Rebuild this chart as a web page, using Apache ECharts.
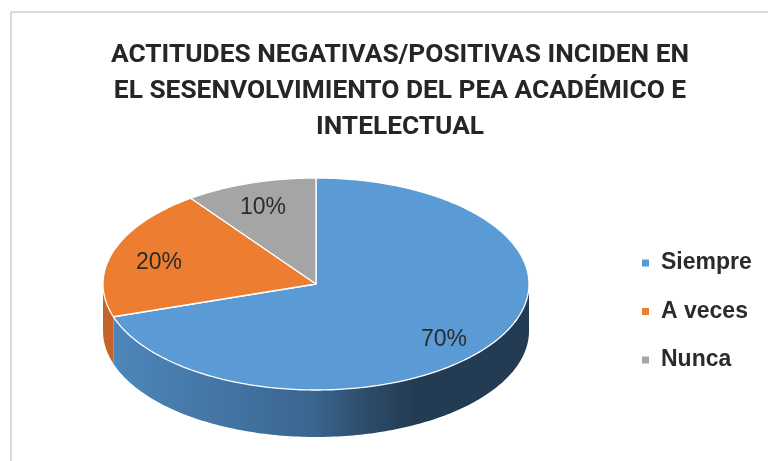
<!DOCTYPE html>
<html>
<head>
<meta charset="utf-8">
<script src="https://cdn.jsdelivr.net/npm/echarts@6/dist/echarts.min.js"></script>
<style>
  html, body { margin: 0; padding: 0; background: #ffffff; }
  #chart { width: 768px; height: 461px; }
</style>
</head>
<body>
<div id="chart"></div>
<script>
// ---- data ----
const titleText = 'ACTITUDES NEGATIVAS/POSITIVAS INCIDEN EN\nEL SESENVOLVIMIENTO DEL PEA ACADÉMICO E\nINTELECTUAL';
const categories = ['Siempre', 'A veces', 'Nunca'];
const values = [70, 20, 10];

// ---- styles ----
const topColors = ['#5B9BD5', '#ED7D31', '#A5A5A5'];
const sideFills = [
  null, // gradient for first slice built below
  '#C5652A',
  '#7F7F7F'
];

// ---- layout of the 3D pie (ellipse) ----
const CX = 316, CY = 284, RX = 213, RY = 106, DEPTH = 47;
const LABEL_R = 0.76;

const total = values.reduce((a, b) => a + b, 0);

function ellPt(a, dy) {
  return [CX + RX * Math.cos(a), CY + RY * Math.sin(a) + (dy || 0)];
}
function arcPts(a0, a1, dy) {
  const pts = [];
  const n = Math.max(2, Math.ceil(Math.abs(a1 - a0) / (Math.PI / 180)));
  for (let k = 0; k <= n; k++) {
    pts.push(ellPt(a0 + (a1 - a0) * k / n, dy));
  }
  return pts;
}

function makeRender(i) {
  return function (params, api) {
    let before = 0;
    for (let k = 0; k < i; k++) before += values[k];
    const v = api.value(0);
    const a0 = -Math.PI / 2 + before / total * 2 * Math.PI;
    const a1 = a0 + v / total * 2 * Math.PI;
    const color = api.visual('color');
    const children = [];

    // visible side (front half of the ellipse)
    [[0, Math.PI], [2 * Math.PI, 3 * Math.PI], [-2 * Math.PI, -Math.PI]].forEach(function (rg) {
      const s0 = Math.max(a0, rg[0]), s1 = Math.min(a1, rg[1]);
      if (s1 > s0) {
        const topArc = arcPts(s0, s1, 0);
        const botArc = arcPts(s1, s0, DEPTH);
        const fill = i === 0
          ? new echarts.graphic.LinearGradient(CX - RX, 0, CX + RX, 0, [
              { offset: 0, color: '#5089BF' },
              { offset: 0.05, color: '#4D84B8' },
              { offset: 0.49, color: '#3A6690' },
              { offset: 0.63, color: '#2C4A66' },
              { offset: 0.73, color: '#243C53' },
              { offset: 1, color: '#243C53' }
            ], true)
          : sideFills[i];
        children.push({
          type: 'polygon',
          z2: 1,
          shape: { points: topArc.concat(botArc) },
          style: { fill: fill, stroke: null }
        });
      }
    });

    // top face
    const topPts = [[CX, CY]].concat(arcPts(a0, a1, 0));
    children.push({
      type: 'polygon',
      z2: 10,
      shape: { points: topPts },
      style: { fill: color, stroke: '#ffffff', lineWidth: 1.3, lineJoin: 'round' }
    });

    // percentage label
    const mid = (a0 + a1) / 2;
    children.push({
      type: 'text',
      z2: 20,
      style: {
        text: Math.round(v / total * 100) + '%',
        x: CX + RX * LABEL_R * Math.cos(mid) - 3,
        y: CY + RY * LABEL_R * Math.sin(mid) + 10 * (1 + Math.sin(mid)) / 2,
        align: 'center',
        verticalAlign: 'middle',
        fontFamily: 'Liberation Sans',
        fontSize: 23,
        fill: '#2b2b2b'
      }
    });
    return { type: 'group', children: children };
  };
}

const series = categories.map(function (name, i) {
  return {
    type: 'custom',
    name: name,
    coordinateSystem: 'none',
    itemStyle: { color: topColors[i] },
    renderItem: makeRender(i),
    data: [{ name: name, value: [values[i]] }],
    silent: true
  };
});

const chart = echarts.init(document.getElementById('chart'), null, { renderer: 'canvas' });
chart.setOption({
  animation: false,
  backgroundColor: '#ffffff',
  title: {
    text: titleText,
    left: 395,
    top: 32,
    textAlign: 'center',
    textStyle: {
      fontFamily: 'Roboto',
      fontWeight: 'bold',
      fontSize: 26.3,
      lineHeight: 36,
      color: '#262626'
    }
  },
  legend: {
    orient: 'vertical',
    left: 637,
    top: 246,
    icon: 'rect',
    itemWidth: 7,
    itemHeight: 7,
    itemGap: 24.5,
    data: categories,
    selectedMode: false,
    textStyle: {
      fontFamily: 'Liberation Sans',
      fontWeight: 'bold',
      fontSize: 23,
      lineHeight: 24,
      color: '#2b2b2b',
      padding: [0, 0, 0, 7]
    }
  },
  graphic: [
    { type: 'line', shape: { x1: 11, y1: 12, x2: 768, y2: 12 }, style: { stroke: '#D9D9D9', lineWidth: 2 } },
    { type: 'line', shape: { x1: 11, y1: 12, x2: 11, y2: 461 }, style: { stroke: '#D9D9D9', lineWidth: 2 } }
  ],
  series: series
});
</script>
</body>
</html>
